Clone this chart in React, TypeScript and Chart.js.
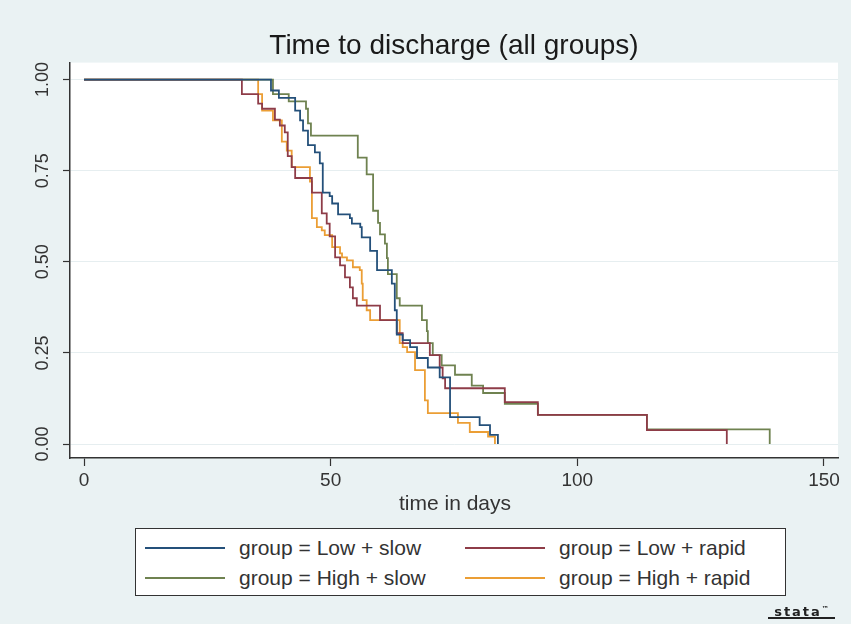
import React, { useEffect, useRef } from "react";
import { Chart, registerables } from "chart.js";

Chart.register(...registerables);

// ---- data ----
const titleText = "Time to discharge (all groups)";
const xAxisTitle = "time in days";
const xTickValues = [0, 50, 100, 150];
const yTickValues = [0, 0.25, 0.5, 0.75, 1];

const seriesNames = [
  "group = Low + slow",
  "group = Low + rapid",
  "group = High + slow",
  "group = High + rapid",
];

const lowSlowTimes = [0, 37.9, 39.5, 42.8, 43.8, 44.4, 45.4, 46.8, 47.8, 48.4, 49.8, 50.3, 51.5, 53.9, 54.3, 56.0, 56.3, 58.0, 59.4, 62.4, 63.0, 63.4, 64.6, 66.1, 67.5, 69.7, 72.1, 74.2, 80.2, 82.3, 83.9];
const lowSlowSurv = [1, 0.97, 0.95, 0.915, 0.888, 0.86, 0.82, 0.8, 0.77, 0.69, 0.68, 0.66, 0.63, 0.62, 0.605, 0.595, 0.567, 0.53, 0.477, 0.44, 0.367, 0.3, 0.285, 0.266, 0.236, 0.21, 0.183, 0.074, 0.052, 0.025, 0];

const lowRapidTimes = [0, 32.0, 35.3, 36.1, 38.7, 39.7, 40.7, 41.3, 42.1, 42.8, 46.2, 48.2, 49.2, 49.8, 50.9, 51.9, 52.9, 53.9, 54.5, 55.3, 60.0, 63.4, 64.6, 70.1, 72.1, 72.7, 73.2, 85.3, 92.0, 114.1, 130.3];
const lowRapidSurv = [1, 0.96, 0.934, 0.92, 0.89, 0.874, 0.855, 0.79, 0.76, 0.73, 0.69, 0.633, 0.605, 0.57, 0.512, 0.49, 0.457, 0.43, 0.4, 0.38, 0.34, 0.304, 0.277, 0.244, 0.21, 0.18, 0.153, 0.115, 0.08, 0.038, 0];

const highSlowTimes = [0, 38.3, 41.5, 45.0, 45.4, 46.0, 55.5, 57.3, 58.6, 59.6, 60.0, 61.0, 61.4, 61.6, 63.4, 64.0, 68.5, 69.5, 69.7, 70.7, 72.5, 75.2, 78.6, 80.9, 85.3, 92.0, 114.1, 139.0];
const highSlowSurv = [1, 0.96, 0.94, 0.92, 0.88, 0.846, 0.786, 0.74, 0.64, 0.607, 0.575, 0.55, 0.51, 0.466, 0.4, 0.38, 0.34, 0.31, 0.277, 0.244, 0.216, 0.19, 0.16, 0.14, 0.11, 0.08, 0.04, 0];

const highRapidTimes = [0, 35.3, 36.1, 38.3, 40.1, 41.1, 42.1, 45.8, 46.2, 47.2, 48.2, 48.8, 50.3, 51.9, 52.3, 53.3, 54.5, 55.9, 56.3, 56.5, 57.3, 58.0, 64.0, 64.6, 65.5, 67.1, 69.1, 69.7, 75.8, 78.2, 81.9, 83.3];
const highRapidSurv = [1, 0.96, 0.915, 0.888, 0.83, 0.805, 0.76, 0.72, 0.62, 0.595, 0.586, 0.573, 0.54, 0.523, 0.512, 0.504, 0.485, 0.477, 0.44, 0.395, 0.367, 0.34, 0.277, 0.266, 0.252, 0.203, 0.12, 0.085, 0.058, 0.033, 0.02, 0];

const seriesColors = ["#24507a", "#8e3c48", "#6f8250", "#eb9e35"];

const FONT = "'Liberation Sans', Arial, Helvetica, sans-serif";
const BG = "#eaf2f3";

function toPoints(t: number[], s: number[]) {
  return t.map((x, i) => ({ x, y: s[i] }));
}

export default function App() {
  const canvasRef = useRef<HTMLCanvasElement | null>(null);

  useEffect(() => {
    document.body.style.margin = "0";
    const canvas = canvasRef.current;
    if (!canvas) return;

    const plotBg = {
      id: "plotBg",
      beforeDraw(chart: any) {
        const { ctx, chartArea } = chart;
        ctx.save();
        ctx.fillStyle = "#ffffff";
        ctx.fillRect(chartArea.left, chartArea.top, chartArea.right - chartArea.left, chartArea.bottom - chartArea.top);
        ctx.restore();
      },
    };

    const allSeries = [
      [lowSlowTimes, lowSlowSurv],
      [lowRapidTimes, lowRapidSurv],
      [highSlowTimes, highSlowSurv],
      [highRapidTimes, highRapidSurv],
    ];

    const chart = new Chart(canvas, {
      type: "line",
      data: {
        datasets: allSeries.map(([t, s], i) => ({
          label: seriesNames[i],
          data: toPoints(t, s),
          borderColor: seriesColors[i],
          backgroundColor: seriesColors[i],
          borderWidth: 1.8,
          pointRadius: 0,
          stepped: "before",
          fill: false,
        })),
      },
      options: {
        animation: false,
        responsive: false,
        devicePixelRatio: 1,
        layout: { padding: { left: 0, right: 13, top: 0, bottom: 0 } },
        plugins: {
          legend: { display: false },
          tooltip: { enabled: false },
          title: {
            display: true,
            text: titleText,
            fullSize: false,
            color: "#1a1a1a",
            font: { family: FONT, size: 28, weight: "normal" },
            padding: { top: 29, bottom: 0 },
          },
        },
        scales: {
          x: {
            type: "linear",
            min: -2.84,
            max: 152.84,
            afterBuildTicks: (scale: any) => {
              scale.ticks = xTickValues.map((v) => ({ value: v }));
            },
            afterFit: (scale: any) => {
              scale.height = 166;
            },
            grid: {
              drawOnChartArea: false,
              drawTicks: true,
              tickLength: 8,
              tickColor: "#333333",
              tickWidth: 1.2,
            },
            border: { display: true, color: "#333333", width: 1.5 },
            ticks: {
              color: "#333333",
              font: { family: FONT, size: 19 },
              padding: 3,
              maxRotation: 0,
              callback: (v: any) => String(v),
            },
          },
          y: {
            type: "linear",
            min: -0.0384,
            max: 1.0466,
            afterBuildTicks: (scale: any) => {
              scale.ticks = yTickValues.map((v) => ({ value: v }));
            },
            afterFit: (scale: any) => {
              scale.width = 70;
            },
            grid: {
              color: "#e6eef0",
              lineWidth: 1,
              drawTicks: true,
              tickLength: 7,
              tickColor: "#333333",
              tickWidth: 1.2,
            },
            border: { display: true, color: "#333333", width: 1.5 },
            ticks: {
              color: "#333333",
              font: { family: FONT, size: 18 },
              minRotation: 90,
              maxRotation: 90,
              crossAlign: "center",
              padding: 2,
              callback: (v: any) => Number(v).toFixed(2),
            },
          },
        },
      },
      plugins: [plotBg],
    } as any);

    return () => chart.destroy();
  }, []);

  const rowY = [548, 578];
  const colLineX = [145, 465];
  const colTextX = [239, 559];
  const legendOrder = [0, 1, 2, 3];

  return (
    <div
      style={{
        position: "absolute",
        left: 0,
        top: 0,
        width: 851,
        height: 624,
        background: BG,
        overflow: "hidden",
        fontFamily: FONT,
      }}
    >
      <canvas ref={canvasRef} width={851} height={624} style={{ position: "absolute", left: 0, top: 0, width: 851, height: 624 }} />
      <div
        style={{
          position: "absolute",
          left: 355,
          width: 200,
          top: 491,
          lineHeight: "24px",
          textAlign: "center",
          fontSize: 21,
          color: "#333333",
          whiteSpace: "nowrap",
        }}
      >
        {xAxisTitle}
      </div>
      <div
        style={{
          position: "absolute",
          left: 135,
          top: 528,
          width: 651,
          height: 68,
          background: "#ffffff",
          border: "1.5px solid #333333",
          boxSizing: "border-box",
        }}
      />
      {legendOrder.map((i) => {
        const r = Math.floor(i / 2);
        const c = i % 2;
        return (
          <React.Fragment key={i}>
            <div
              style={{
                position: "absolute",
                left: colLineX[c],
                top: rowY[r] - 1,
                width: 80,
                height: 2,
                background: seriesColors[i],
              }}
            />
            <div
              style={{
                position: "absolute",
                left: colTextX[c],
                top: rowY[r] - 13,
                lineHeight: "26px",
                fontSize: 21,
                color: "#333333",
                whiteSpace: "nowrap",
              }}
            >
              {seriesNames[i]}
            </div>
          </React.Fragment>
        );
      })}
      <div
        style={{
          position: "absolute",
          left: 768,
          top: 602,
          width: 67,
          height: 17,
          borderBottom: "2px solid #222",
          fontFamily: "'DejaVu Sans', sans-serif",
          fontWeight: "bold",
          fontSize: 13,
          lineHeight: "15px",
          letterSpacing: "2px",
          color: "#222",
          textAlign: "center",
          boxSizing: "border-box",
          overflow: "hidden",
          whiteSpace: "nowrap",
        }}
      >
        stata<sup style={{ fontSize: 7, letterSpacing: 0 }}>™</sup>
      </div>
    </div>
  );
}
